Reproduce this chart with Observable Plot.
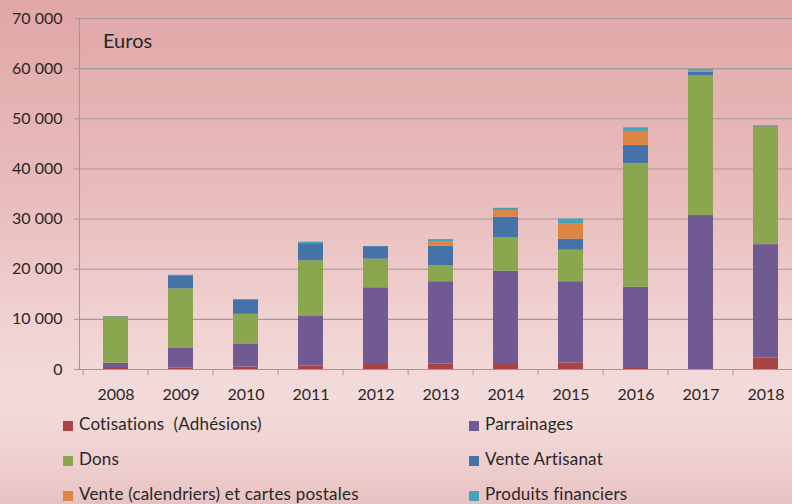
<!DOCTYPE html>
<html>
<head>
<meta charset="utf-8">
<script src="https://cdn.jsdelivr.net/npm/d3@7"></script>
<script src="https://cdn.jsdelivr.net/npm/@observablehq/plot@0.6"></script>
<style>
  html, body { margin: 0; padding: 0; }
  body {
    width: 792px; height: 504px; overflow: hidden;
    font-family: Lato, "Open Sans", sans-serif; color: #2b2626;
    background: linear-gradient(to bottom, #e0a7a7 0%, #e9bdbd 40%, #f0d0d0 62%, #f3dbdb 78%, #f1d4d4 88%, #e8c2c2 100%);
  }
  #chart { position: relative; }
  #euros { position: absolute; left: 103px; top: 28px; font-size: 20px; }
  #legend { display: grid; grid-template-columns: 406px 320px; padding-left: 63px; font-size: 17px; letter-spacing: 0.2px; line-height: 35px; white-space: pre; }
  #legend span.sw { display: inline-block; width: 10px; height: 10px; margin-right: 6px; vertical-align: -1px; }
</style>
</head>
<body>
<div id="chart"><div id="euros">Euros</div></div>
<div id="legend"></div>
<script>
const years = ["2008","2009","2010","2011","2012","2013","2014","2015","2016","2017","2018"];
const seriesNames = ["Cotisations  (Adhésions)", "Parrainages", "Dons", "Vente Artisanat", "Vente (calendriers) et cartes postales", "Produits financiers"];
const colors = ["#a84443", "#715a92", "#8aa64e", "#4573a8", "#dd8542", "#46a3b9"];
const cotisations = [400, 300, 500, 700, 1000, 1100, 1000, 1300, 400, 0, 2300];
const parrainages = [870, 4000, 4600, 10000, 15300, 16400, 18600, 16200, 16000, 30700, 22600];
const dons        = [9200, 11800, 5900, 11000, 5700, 3200, 6700, 6300, 24700, 27900, 23500];
const artisanat   = [100, 2600, 2900, 3400, 2500, 3900, 4100, 2200, 3600, 700, 100];
const calendriers = [0, 0, 0, 0, 0, 800, 1300, 3100, 2800, 200, 0];
const financiers  = [0, 100, 0, 300, 0, 500, 450, 900, 700, 300, 100];
const yTicks = [0, 10000, 20000, 30000, 40000, 50000, 60000, 70000];

const seriesValues = [cotisations, parrainages, dons, artisanat, calendriers, financiers];
const table = [];
seriesValues.forEach((vals, s) => vals.forEach((v, i) => table.push({year: years[i], series: seriesNames[s], value: v})));

const fmt = d => d3.format(",")(d).replace(/,/g, " ");
const step = (802 - 79) / years.length;
const grey = "#a39898";

const plot = Plot.plot({
  width: 792,
  height: 406,
  marginTop: 18,
  marginBottom: 37,
  marginLeft: 79,
  marginRight: 0,
  style: {background: "transparent", fontFamily: "Lato, 'Open Sans', sans-serif", fontSize: "16px", color: "#2b2626", overflow: "visible"},
  x: {domain: years, range: [79, 802], paddingInner: 0.62, paddingOuter: 0.31},
  y: {domain: [0, 70000]},
  color: {domain: seriesNames, range: colors},
  marks: [
    Plot.ruleY(yTicks, {y: d => d, stroke: grey, strokeWidth: 1.1}),
    Plot.barY(table, {x: "year", y: "value", fill: "series", order: null}),
    Plot.frame({anchor: "left", stroke: grey, strokeWidth: 1.1}),
    Plot.axisY({ticks: yTicks, tickFormat: fmt, tickSize: 5, tickPadding: 12, stroke: grey, fill: "#2b2626", label: null, fontSize: 16}),
    Plot.axisX({ticks: years, tickSize: 6, dx: -step / 2, tickFormat: () => "", stroke: grey, label: null}),
    Plot.axisX({ticks: years, tickSize: 0, tickPadding: 19, fill: "#2b2626", label: null, fontSize: 16})
  ]
});
document.getElementById("chart").appendChild(plot);

const legend = document.getElementById("legend");
seriesNames.forEach((name, i) => {
  const div = document.createElement("div");
  const sw = document.createElement("span");
  sw.className = "sw";
  sw.style.background = colors[i];
  div.appendChild(sw);
  div.appendChild(document.createTextNode(name));
  legend.appendChild(div);
});
</script>
</body>
</html>
